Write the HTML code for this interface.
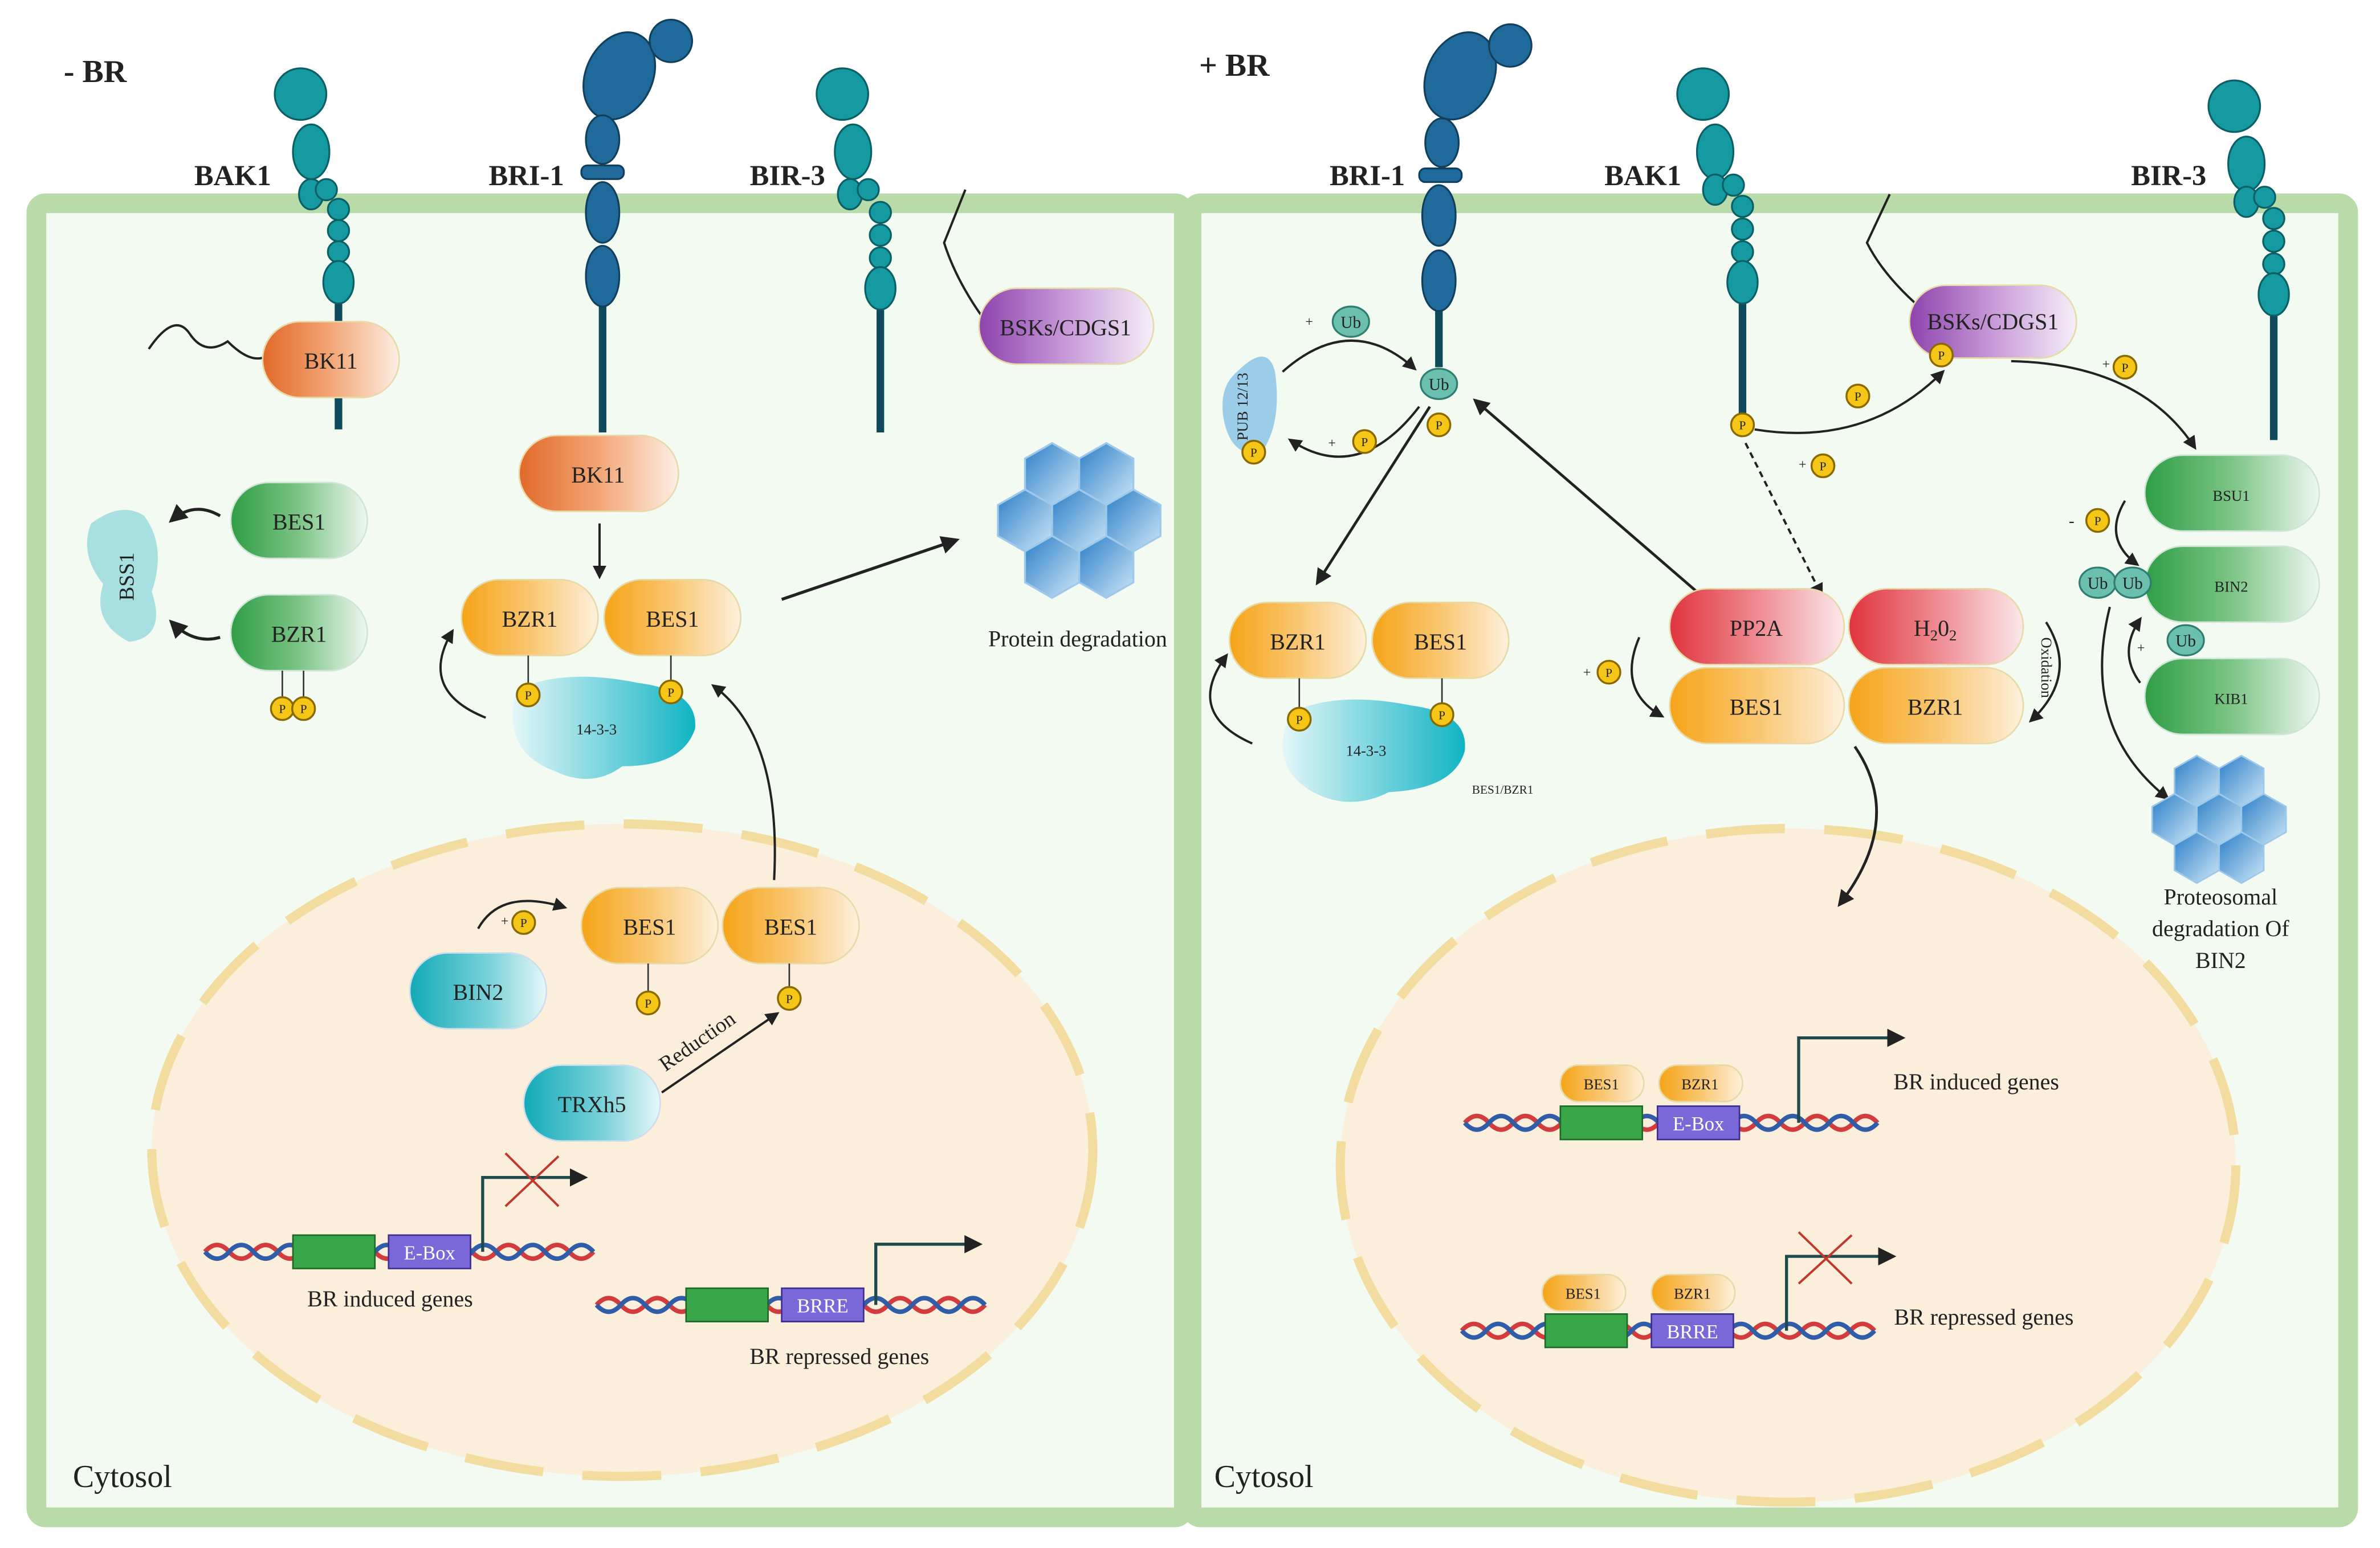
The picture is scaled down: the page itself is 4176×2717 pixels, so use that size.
<!DOCTYPE html>
<html><head><meta charset="utf-8"><style>
html,body{margin:0;padding:0;background:#fff}
svg{display:block}
text{font-family:"Liberation Serif",serif;fill:#222}
</style></head><body>
<svg width="4176" height="2717" viewBox="0 0 1568 1020.2" preserveAspectRatio="none" xmlns="http://www.w3.org/2000/svg">
<defs>
<linearGradient id="or" x1="0" x2="1"><stop offset="0" stop-color="#f5a418"/><stop offset="0.5" stop-color="#f9c670"/><stop offset="1" stop-color="#fdf0dc"/></linearGradient>
<linearGradient id="bk" x1="0" x2="1"><stop offset="0" stop-color="#e2692a"/><stop offset="0.5" stop-color="#f2a676"/><stop offset="1" stop-color="#fdeee4"/></linearGradient>
<linearGradient id="gr" x1="0" x2="1"><stop offset="0" stop-color="#2f9e45"/><stop offset="0.5" stop-color="#7cc486"/><stop offset="1" stop-color="#eef7ef"/></linearGradient>
<linearGradient id="pu" x1="0" x2="1"><stop offset="0" stop-color="#8e44ad"/><stop offset="0.5" stop-color="#c79ad8"/><stop offset="1" stop-color="#f5eef8"/></linearGradient>
<linearGradient id="rd" x1="0" x2="1"><stop offset="0" stop-color="#e0343f"/><stop offset="0.5" stop-color="#ee8a90"/><stop offset="1" stop-color="#fbe8e9"/></linearGradient>
<linearGradient id="tl" x1="0" x2="1"><stop offset="0" stop-color="#12aab8"/><stop offset="0.6" stop-color="#7fd3da"/><stop offset="1" stop-color="#e6f7f8"/></linearGradient>
<linearGradient id="blob" x1="1" x2="0"><stop offset="0" stop-color="#10b4c4"/><stop offset="1" stop-color="#e3f6f8"/></linearGradient>
<linearGradient id="hx" x1="0" x2="1" y1="0" y2="1"><stop offset="0" stop-color="#2a7fc8"/><stop offset="1" stop-color="#cfe6f7"/></linearGradient>
<marker id="ah" viewBox="0 0 10 10" refX="8" refY="5" markerWidth="6" markerHeight="6" orient="auto"><path d="M0,0L10,5L0,10z" fill="#222"/></marker>
<g id="hex"><polygon points="0,-24 21,-12 21,12 0,24 -21,12 -21,-12" fill="url(#hx)" stroke="#9fc9ea" stroke-width="1.5"/></g>
<g id="P"><circle r="7.5" fill="#f5c518" stroke="#8a6a00" stroke-width="1.3"/><text y="3" text-anchor="middle" font-size="8">P</text></g>
<g id="Ub"><ellipse rx="12" ry="10" fill="#6bbfae" stroke="#2f7d70" stroke-width="1.2"/><text y="4" text-anchor="middle" font-size="11">Ub</text></g>
</defs>

<!-- cells -->
<rect x="24" y="134" width="756" height="866" rx="6" fill="#f2faf1" stroke="#b9dba9" stroke-width="13"/>
<rect x="785" y="134" width="762" height="866" rx="6" fill="#f2faf1" stroke="#b9dba9" stroke-width="13"/>

<!-- nuclei -->
<ellipse cx="410" cy="758" rx="310" ry="215" fill="#fbeedb" stroke="#f3dca0" stroke-width="6" stroke-dasharray="52 26"/>
<ellipse cx="1178" cy="768" rx="295" ry="222" fill="#fbeedb" stroke="#f3dca0" stroke-width="6" stroke-dasharray="52 26"/>

<text x="42" y="54" font-size="21" font-weight="bold">- BR</text>
<text x="790" y="50" font-size="21" font-weight="bold">+ BR</text>
<text x="48" y="980" font-size="21">Cytosol</text>
<text x="800" y="980" font-size="21">Cytosol</text>

<!-- LEFT receptors -->
<g fill="#149aa0" stroke="#0d5f66" stroke-width="1.2">
<line x1="223" y1="190" x2="223" y2="283" stroke="#0e4a5a" stroke-width="5"/>
<circle cx="198" cy="62" r="17"/><ellipse cx="205" cy="100" rx="12" ry="18"/>
<ellipse cx="205" cy="128" rx="8" ry="10"/><circle cx="215" cy="125" r="7"/>
<circle cx="223" cy="138" r="7"/><circle cx="223" cy="152" r="7"/><circle cx="223" cy="166" r="7"/><ellipse cx="223" cy="186" rx="10" ry="14"/>
<line x1="580" y1="190" x2="580" y2="285" stroke="#0e4a5a" stroke-width="5"/>
<circle cx="555" cy="62" r="17"/><ellipse cx="562" cy="100" rx="12" ry="18"/>
<ellipse cx="560" cy="128" rx="8" ry="10"/><circle cx="572" cy="125" r="7"/>
<circle cx="580" cy="140" r="7"/><circle cx="580" cy="155" r="7"/><circle cx="580" cy="170" r="7"/><ellipse cx="580" cy="190" rx="10" ry="14"/>
</g>
<g fill="#1f6a9a" stroke="#123f5c" stroke-width="1.2">
<line x1="397" y1="190" x2="397" y2="285" stroke="#0e4a5a" stroke-width="5"/>
<ellipse cx="408" cy="50" rx="22" ry="30" transform="rotate(25 408 50)"/><circle cx="442" cy="27" r="14"/>
<ellipse cx="397" cy="92" rx="11" ry="16"/><rect x="383" y="109" width="28" height="9" rx="4"/>
<ellipse cx="397" cy="140" rx="11" ry="20"/><ellipse cx="397" cy="182" rx="11" ry="20"/>
</g>
<text x="128" y="122" font-size="19" font-weight="bold">BAK1</text>
<text x="322" y="122" font-size="19" font-weight="bold">BRI-1</text>
<text x="494" y="122" font-size="19" font-weight="bold">BIR-3</text>

<path d="M636,125 L622,160 Q630,185 648,210" fill="none" stroke="#222" stroke-width="1.5"/>
<rect x="645" y="190" width="115" height="50" rx="25" fill="url(#pu)" stroke="#e8d9a8"/>
<text x="702" y="221" text-anchor="middle" font-size="15">BSKs/CDGS1</text>
<path d="M98,230 Q115,205 125,220 T150,225 Q165,240 175,235" fill="none" stroke="#222" stroke-width="1.5"/>
<rect x="173" y="212" width="90" height="50" rx="25" fill="url(#bk)" stroke="#e8d9a8"/>
<text x="218" y="243" text-anchor="middle" font-size="15">BK11</text>
<rect x="342" y="287" width="105" height="50" rx="25" fill="url(#bk)" stroke="#e8d9a8"/>
<text x="394" y="318" text-anchor="middle" font-size="15">BK11</text>
<line x1="395" y1="345" x2="395" y2="380" stroke="#222" stroke-width="1.5" marker-end="url(#ah)"/>

<path d="M60,345 Q80,330 95,340 Q110,360 100,390 Q110,420 85,423 Q60,410 68,385 Q52,365 60,345z" fill="#a8dfe0"/>
<text x="88" y="380" font-size="14" text-anchor="middle" transform="rotate(-90 88 380)">BSS1</text>
<rect x="152" y="318" width="90" height="50" rx="25" fill="url(#gr)" stroke="#cfe6d6"/>
<text x="197" y="349" text-anchor="middle" font-size="15">BES1</text>
<rect x="152" y="392" width="90" height="50" rx="25" fill="url(#gr)" stroke="#cfe6d6"/>
<text x="197" y="423" text-anchor="middle" font-size="15">BZR1</text>
<path d="M145,340 Q128,330 113,343" fill="none" stroke="#222" stroke-width="2" marker-end="url(#ah)"/>
<path d="M145,420 Q128,425 113,410" fill="none" stroke="#222" stroke-width="2" marker-end="url(#ah)"/>
<line x1="186" y1="442" x2="186" y2="460" stroke="#333"/><line x1="200" y1="442" x2="200" y2="460" stroke="#333"/>
<use href="#P" x="186" y="467"/><use href="#P" x="200" y="467"/>

<path d="M340,455 Q370,440 420,450 Q460,455 458,480 Q450,505 410,505 Q390,520 365,508 Q330,495 340,455z" fill="url(#blob)"/>
<text x="393" y="484" text-anchor="middle" font-size="10">14-3-3</text>
<rect x="304" y="382" width="90" height="50" rx="25" fill="url(#or)" stroke="#e8d9a8"/>
<text x="349" y="413" text-anchor="middle" font-size="15">BZR1</text>
<rect x="398" y="382" width="90" height="50" rx="25" fill="url(#or)" stroke="#e8d9a8"/>
<text x="443" y="413" text-anchor="middle" font-size="15">BES1</text>
<line x1="348" y1="432" x2="348" y2="451" stroke="#333"/><line x1="442" y1="432" x2="442" y2="449" stroke="#333"/>
<use href="#P" x="348" y="458"/><use href="#P" x="442" y="456"/>
<path d="M320,473 Q275,455 298,416" fill="none" stroke="#222" stroke-width="1.5" marker-end="url(#ah)"/>
<path d="M510,580 Q515,485 470,452" fill="none" stroke="#222" stroke-width="1.5" marker-end="url(#ah)"/>
<line x1="515" y1="395" x2="630" y2="356" stroke="#222" stroke-width="2" marker-end="url(#ah)"/>
<g transform="translate(711,343) scale(0.85)">
<use href="#hex" x="-21" y="-36"/><use href="#hex" x="21" y="-36"/>
<use href="#hex" x="-42" y="0"/><use href="#hex" x="0" y="0"/><use href="#hex" x="42" y="0"/>
<use href="#hex" x="-21" y="36"/><use href="#hex" x="21" y="36"/>
</g>
<text x="710" y="426" text-anchor="middle" font-size="15">Protein degradation</text>

<!-- left nucleus content -->
<rect x="270" y="628" width="90" height="50" rx="25" fill="url(#tl)" stroke="#cde"/>
<text x="315" y="659" text-anchor="middle" font-size="15">BIN2</text>
<text x="330" y="610" font-size="9">+</text><use href="#P" x="345" y="608"/>
<path d="M315,612 Q330,585 372,598" fill="none" stroke="#222" stroke-width="1.5" marker-end="url(#ah)"/>
<rect x="383" y="585" width="90" height="50" rx="25" fill="url(#or)" stroke="#e8d9a8"/>
<text x="428" y="616" text-anchor="middle" font-size="15">BES1</text>
<rect x="476" y="585" width="90" height="50" rx="25" fill="url(#or)" stroke="#e8d9a8"/>
<text x="521" y="616" text-anchor="middle" font-size="15">BES1</text>
<line x1="427" y1="635" x2="427" y2="654" stroke="#333"/><line x1="520" y1="635" x2="520" y2="651" stroke="#333"/>
<use href="#P" x="427" y="661"/><use href="#P" x="520" y="658"/>
<rect x="345" y="702" width="90" height="50" rx="25" fill="url(#tl)" stroke="#cde"/>
<text x="390" y="733" text-anchor="middle" font-size="15">TRXh5</text>
<line x1="436" y1="720" x2="512" y2="668" stroke="#222" stroke-width="1.5" marker-end="url(#ah)"/>
<text x="462" y="690" font-size="14" text-anchor="middle" transform="rotate(-35 462 690)">Reduction</text>

<g fill="none" stroke-width="3">
<path d="M135,825 q8,-9 16,0 t16,0 t16,0 t16,0 t16,0 t16,0 t16,0 t16,0 t16,0 t16,0 t16,0 t16,0 t16,0 t16,0 t16,0 t16,0" stroke="#d23c3c"/>
<path d="M135,825 q8,9 16,0 t16,0 t16,0 t16,0 t16,0 t16,0 t16,0 t16,0 t16,0 t16,0 t16,0 t16,0 t16,0 t16,0 t16,0 t16,0" stroke="#2f5da8"/>
<path d="M393,860 q8,-9 16,0 t16,0 t16,0 t16,0 t16,0 t16,0 t16,0 t16,0 t16,0 t16,0 t16,0 t16,0 t16,0 t16,0 t16,0 t16,0" stroke="#d23c3c"/>
<path d="M393,860 q8,9 16,0 t16,0 t16,0 t16,0 t16,0 t16,0 t16,0 t16,0 t16,0 t16,0 t16,0 t16,0 t16,0 t16,0 t16,0 t16,0" stroke="#2f5da8"/>
</g>
<rect x="193" y="814" width="54" height="22" fill="#3aa64a" stroke="#1d6a28"/>
<rect x="256" y="814" width="54" height="22" fill="#7b68d8" stroke="#3d2f90"/>
<text x="283" y="830" text-anchor="middle" font-size="13" style="fill:#fff">E-Box</text>
<path d="M318,825 V776 H385" fill="none" stroke="#1d4a4a" stroke-width="2" marker-end="url(#ah)"/>
<path d="M333,760 L368,795 M333,795 L368,762" stroke="#c0392b" stroke-width="1.5"/>
<text x="257" y="861" text-anchor="middle" font-size="15">BR induced genes</text>
<rect x="452" y="849" width="54" height="22" fill="#3aa64a" stroke="#1d6a28"/>
<rect x="515" y="849" width="54" height="22" fill="#7b68d8" stroke="#3d2f90"/>
<text x="542" y="865" text-anchor="middle" font-size="13" style="fill:#fff">BRRE</text>
<path d="M577,860 V820 H645" fill="none" stroke="#1d4a4a" stroke-width="2" marker-end="url(#ah)"/>
<text x="553" y="899" text-anchor="middle" font-size="15">BR repressed genes</text>

<!-- RIGHT receptors -->
<g fill="#1f6a9a" stroke="#123f5c" stroke-width="1.2">
<line x1="948" y1="200" x2="948" y2="242" stroke="#0e4a5a" stroke-width="5"/>
<ellipse cx="962" cy="50" rx="22" ry="30" transform="rotate(25 962 50)"/><circle cx="995" cy="30" r="14"/>
<ellipse cx="950" cy="94" rx="11" ry="16"/><rect x="935" y="111" width="28" height="9" rx="4"/>
<ellipse cx="948" cy="142" rx="11" ry="20"/><ellipse cx="948" cy="185" rx="11" ry="20"/>
</g>
<g fill="#149aa0" stroke="#0d5f66" stroke-width="1.2">
<line x1="1148" y1="190" x2="1148" y2="273" stroke="#0e4a5a" stroke-width="5"/>
<circle cx="1122" cy="62" r="17"/><ellipse cx="1130" cy="100" rx="12" ry="18"/>
<ellipse cx="1130" cy="125" rx="8" ry="10"/><circle cx="1142" cy="122" r="7"/>
<circle cx="1148" cy="136" r="7"/><circle cx="1148" cy="151" r="7"/><circle cx="1148" cy="166" r="7"/><ellipse cx="1148" cy="186" rx="10" ry="14"/>
<line x1="1498" y1="200" x2="1498" y2="290" stroke="#0e4a5a" stroke-width="5"/>
<circle cx="1472" cy="70" r="17"/><ellipse cx="1480" cy="108" rx="12" ry="18"/>
<ellipse cx="1480" cy="133" rx="8" ry="10"/><circle cx="1492" cy="130" r="7"/>
<circle cx="1498" cy="144" r="7"/><circle cx="1498" cy="159" r="7"/><circle cx="1498" cy="174" r="7"/><ellipse cx="1498" cy="194" rx="10" ry="14"/>
</g>
<text x="876" y="122" font-size="19" font-weight="bold">BRI-1</text>
<text x="1057" y="122" font-size="19" font-weight="bold">BAK1</text>
<text x="1404" y="122" font-size="19" font-weight="bold">BIR-3</text>

<use href="#Ub" x="948" y="253"/><use href="#P" x="948" y="280"/>
<use href="#P" x="1148" y="280"/>
<path d="M1245,128 L1230,160 Q1240,180 1262,200" fill="none" stroke="#222" stroke-width="1.5"/>
<rect x="1258" y="188" width="110" height="48" rx="24" fill="url(#pu)" stroke="#e8d9a8"/>
<text x="1313" y="217" text-anchor="middle" font-size="15">BSKs/CDGS1</text>
<use href="#P" x="1279" y="234"/>
<use href="#P" x="1224" y="261"/>
<path d="M1156,283 Q1230,295 1280,245" fill="none" stroke="#222" stroke-width="1.5" marker-end="url(#ah)"/>
<text x="1385" y="243" font-size="9">+</text><use href="#P" x="1400" y="242"/>
<path d="M1325,238 Q1410,240 1446,295" fill="none" stroke="#222" stroke-width="1.5" marker-end="url(#ah)"/>
<text x="1185" y="309" font-size="9">+</text><use href="#P" x="1201" y="307"/>
<line x1="1150" y1="292" x2="1200" y2="392" stroke="#222" stroke-width="1.5" stroke-dasharray="4 3" marker-end="url(#ah)"/>

<path d="M815,245 Q835,225 840,245 Q845,280 830,300 Q810,300 806,275 Q803,255 815,245z" fill="#9ccde8"/>
<text x="822" y="268" font-size="10" text-anchor="middle" transform="rotate(-90 822 268)">PUB 12/13</text>
<use href="#P" x="826" y="298"/>
<text x="860" y="215" font-size="9">+</text><use href="#Ub" x="890" y="212"/>
<path d="M845,245 Q890,205 932,243" fill="none" stroke="#222" stroke-width="1.5" marker-end="url(#ah)"/>
<path d="M935,268 Q895,320 850,290" fill="none" stroke="#222" stroke-width="1.5" marker-end="url(#ah)"/>
<text x="875" y="295" font-size="9">+</text><use href="#P" x="899" y="291"/>
<line x1="942" y1="268" x2="868" y2="384" stroke="#222" stroke-width="1.8" marker-end="url(#ah)"/>
<line x1="1118" y1="390" x2="972" y2="264" stroke="#222" stroke-width="1.8" marker-end="url(#ah)"/>

<path d="M850,470 Q880,455 930,465 Q968,470 965,495 Q958,520 915,522 Q890,535 865,522 Q835,505 850,470z" fill="url(#blob)"/>
<text x="900" y="498" text-anchor="middle" font-size="10">14-3-3</text>
<text x="990" y="523" text-anchor="middle" font-size="8">BES1/BZR1</text>
<rect x="810" y="397" width="90" height="50" rx="25" fill="url(#or)" stroke="#e8d9a8"/>
<text x="855" y="428" text-anchor="middle" font-size="15">BZR1</text>
<rect x="904" y="397" width="90" height="50" rx="25" fill="url(#or)" stroke="#e8d9a8"/>
<text x="949" y="428" text-anchor="middle" font-size="15">BES1</text>
<line x1="856" y1="447" x2="856" y2="467" stroke="#333"/><line x1="950" y1="447" x2="950" y2="464" stroke="#333"/>
<use href="#P" x="856" y="474"/><use href="#P" x="950" y="471"/>
<path d="M825,490 Q780,470 808,432" fill="none" stroke="#222" stroke-width="1.5" marker-end="url(#ah)"/>

<rect x="1100" y="388" width="115" height="50" rx="25" fill="url(#rd)" stroke="#e8d9a8"/>
<text x="1157" y="419" text-anchor="middle" font-size="15">PP2A</text>
<rect x="1218" y="388" width="115" height="50" rx="25" fill="url(#rd)" stroke="#e8d9a8"/>
<text x="1275" y="419" text-anchor="middle" font-size="15">H<tspan font-size="10" dy="3">2</tspan><tspan dy="-3">0</tspan><tspan font-size="10" dy="3">2</tspan></text>
<rect x="1100" y="440" width="115" height="50" rx="25" fill="url(#or)" stroke="#e8d9a8"/>
<text x="1157" y="471" text-anchor="middle" font-size="15">BES1</text>
<rect x="1218" y="440" width="115" height="50" rx="25" fill="url(#or)" stroke="#e8d9a8"/>
<text x="1275" y="471" text-anchor="middle" font-size="15">BZR1</text>
<text x="1043" y="446" font-size="9">+</text><use href="#P" x="1060" y="443"/>
<path d="M1080,420 Q1065,455 1095,472" fill="none" stroke="#222" stroke-width="1.5" marker-end="url(#ah)"/>
<path d="M1348,410 Q1370,445 1338,475" fill="none" stroke="#222" stroke-width="1.5" marker-end="url(#ah)"/>
<text x="1345" y="440" font-size="10" text-anchor="middle" transform="rotate(90 1345 440)">Oxidation</text>
<path d="M1222,492 Q1255,540 1212,596" fill="none" stroke="#222" stroke-width="1.8" marker-end="url(#ah)"/>

<rect x="1413" y="300" width="115" height="50" rx="25" fill="url(#gr)" stroke="#cfe6d6"/>
<text x="1470" y="330" text-anchor="middle" font-size="10">BSU1</text>
<rect x="1413" y="360" width="115" height="50" rx="25" fill="url(#gr)" stroke="#cfe6d6"/>
<text x="1470" y="390" text-anchor="middle" font-size="10">BIN2</text>
<rect x="1413" y="434" width="115" height="50" rx="25" fill="url(#gr)" stroke="#cfe6d6"/>
<text x="1470" y="464" text-anchor="middle" font-size="10">KIB1</text>
<text x="1363" y="347" font-size="11">-</text><use href="#P" x="1382" y="343"/>
<path d="M1400,330 Q1385,355 1408,372" fill="none" stroke="#222" stroke-width="1.5" marker-end="url(#ah)"/>
<use href="#Ub" x="1382" y="384"/><use href="#Ub" x="1405" y="384"/>
<use href="#Ub" x="1440" y="422"/><text x="1408" y="430" font-size="9">+</text>
<path d="M1410,450 Q1395,430 1410,408" fill="none" stroke="#222" stroke-width="1.5" marker-end="url(#ah)"/>
<path d="M1390,400 Q1370,480 1428,526" fill="none" stroke="#222" stroke-width="1.5" marker-end="url(#ah)"/>
<g transform="translate(1462,540) scale(0.7)">
<use href="#hex" x="-21" y="-36"/><use href="#hex" x="21" y="-36"/>
<use href="#hex" x="-42" y="0"/><use href="#hex" x="0" y="0"/><use href="#hex" x="42" y="0"/>
<use href="#hex" x="-21" y="36"/><use href="#hex" x="21" y="36"/>
</g>
<text x="1463" y="596" text-anchor="middle" font-size="15">Proteosomal</text>
<text x="1463" y="617" text-anchor="middle" font-size="15">degradation Of</text>
<text x="1463" y="638" text-anchor="middle" font-size="15">BIN2</text>

<!-- right nucleus content -->
<g fill="none" stroke-width="3">
<path d="M965,740 q8,-9 16,0 t16,0 t16,0 t16,0 t16,0 t16,0 t16,0 t16,0 t16,0 t16,0 t16,0 t16,0 t16,0 t16,0 t16,0 t16,0 t16,0" stroke="#d23c3c"/>
<path d="M965,740 q8,9 16,0 t16,0 t16,0 t16,0 t16,0 t16,0 t16,0 t16,0 t16,0 t16,0 t16,0 t16,0 t16,0 t16,0 t16,0 t16,0 t16,0" stroke="#2f5da8"/>
<path d="M963,877 q8,-9 16,0 t16,0 t16,0 t16,0 t16,0 t16,0 t16,0 t16,0 t16,0 t16,0 t16,0 t16,0 t16,0 t16,0 t16,0 t16,0 t16,0" stroke="#d23c3c"/>
<path d="M963,877 q8,9 16,0 t16,0 t16,0 t16,0 t16,0 t16,0 t16,0 t16,0 t16,0 t16,0 t16,0 t16,0 t16,0 t16,0 t16,0 t16,0 t16,0" stroke="#2f5da8"/>
</g>
<rect x="1028" y="729" width="54" height="22" fill="#3aa64a" stroke="#1d6a28"/>
<rect x="1092" y="729" width="54" height="22" fill="#7b68d8" stroke="#3d2f90"/>
<text x="1119" y="745" text-anchor="middle" font-size="13" style="fill:#fff">E-Box</text>
<rect x="1028" y="702" width="55" height="24" rx="12" fill="url(#or)" stroke="#e8d9a8"/>
<text x="1055" y="718" text-anchor="middle" font-size="10">BES1</text>
<rect x="1093" y="702" width="55" height="24" rx="12" fill="url(#or)" stroke="#e8d9a8"/>
<text x="1120" y="718" text-anchor="middle" font-size="10">BZR1</text>
<path d="M1185,740 V684 H1253" fill="none" stroke="#1d4a4a" stroke-width="2" marker-end="url(#ah)"/>
<text x="1302" y="718" text-anchor="middle" font-size="15">BR induced genes</text>
<rect x="1018" y="866" width="54" height="22" fill="#3aa64a" stroke="#1d6a28"/>
<rect x="1088" y="866" width="54" height="22" fill="#7b68d8" stroke="#3d2f90"/>
<text x="1115" y="882" text-anchor="middle" font-size="13" style="fill:#fff">BRRE</text>
<rect x="1016" y="840" width="55" height="24" rx="12" fill="url(#or)" stroke="#e8d9a8"/>
<text x="1043" y="856" text-anchor="middle" font-size="10">BES1</text>
<rect x="1088" y="840" width="55" height="24" rx="12" fill="url(#or)" stroke="#e8d9a8"/>
<text x="1115" y="856" text-anchor="middle" font-size="10">BZR1</text>
<path d="M1177,877 V828 H1247" fill="none" stroke="#1d4a4a" stroke-width="2" marker-end="url(#ah)"/>
<path d="M1185,812 L1220,846 M1185,846 L1220,814" stroke="#c0392b" stroke-width="1.5"/>
<text x="1307" y="873" text-anchor="middle" font-size="15">BR repressed genes</text>
</svg>
</body></html>
